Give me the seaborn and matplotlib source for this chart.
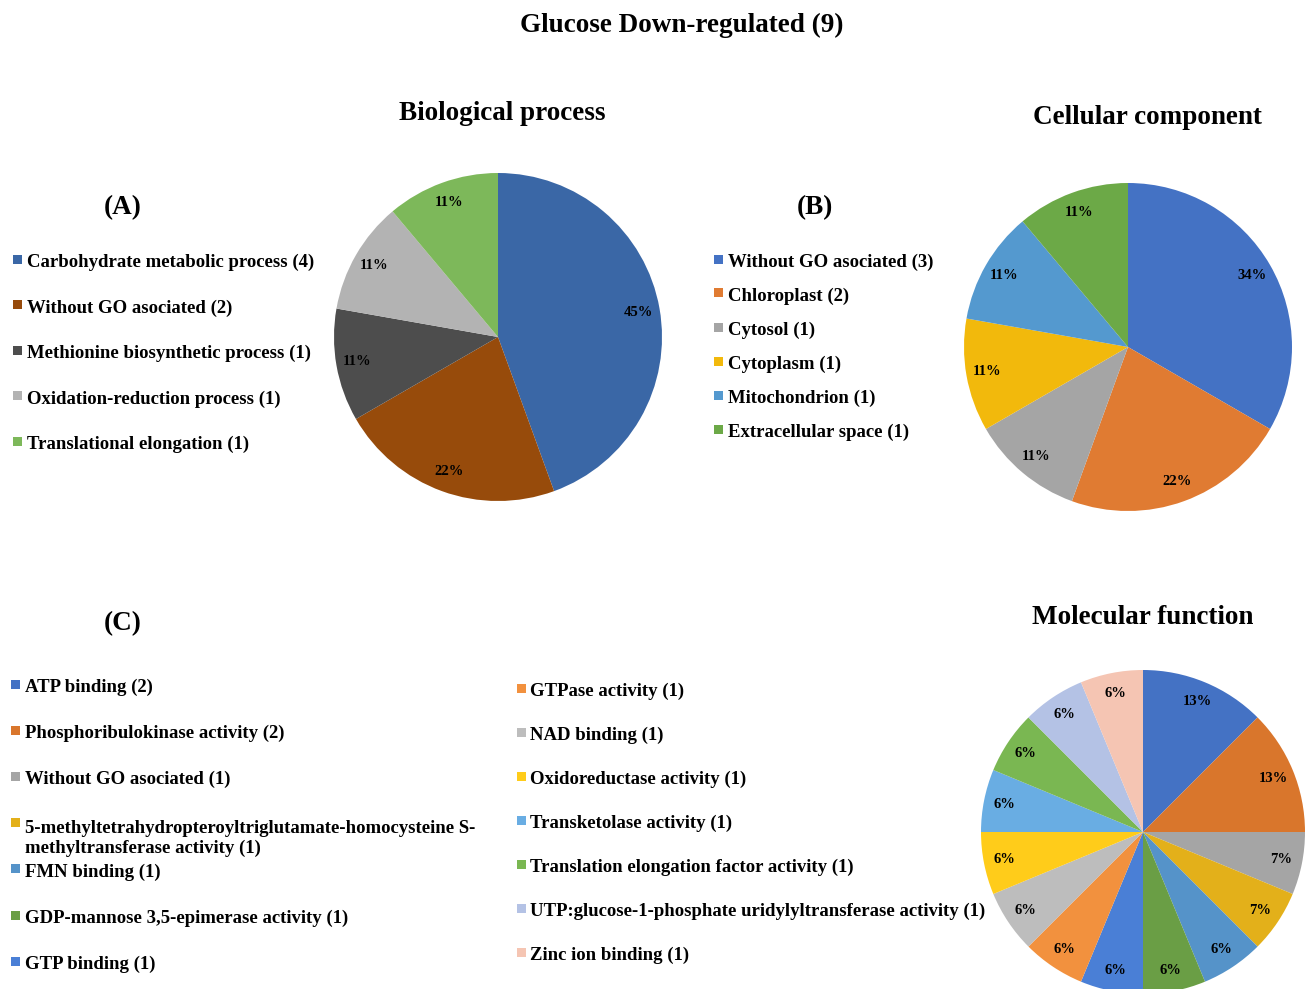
import matplotlib
matplotlib.use("Agg")
import matplotlib.pyplot as plt
from matplotlib.patches import Rectangle
import seaborn as sns

# ---------------- data ----------------
title = "Glucose Down-regulated (9)"

bp_names = ["Carbohydrate metabolic process", "Without GO asociated",
            "Methionine biosynthetic process", "Oxidation-reduction process",
            "Translational elongation"]
bp_counts = [4, 2, 1, 1, 1]
bp_pct_labels = ["45%", "22%", "11%", "11%", "11%"]
bp_colors = ["#3A67A6", "#974B0B", "#4D4D4D", "#B3B3B3", "#7DB85A"]

cc_names = ["Without GO asociated", "Chloroplast", "Cytosol", "Cytoplasm",
            "Mitochondrion", "Extracellular space"]
cc_counts = [3, 2, 1, 1, 1, 1]
cc_pct_labels = ["34%", "22%", "11%", "11%", "11%", "11%"]
cc_colors = ["#4472C4", "#E07B32", "#A5A5A5", "#F2B90C", "#5499CF", "#6CA947"]

mf_names = ["ATP binding", "Phosphoribulokinase activity", "Without GO asociated",
            "5-methyltetrahydropteroyltriglutamate-homocysteine S-\nmethyltransferase activity",
            "FMN binding", "GDP-mannose 3,5-epimerase activity", "GTP binding",
            "GTPase activity", "NAD binding", "Oxidoreductase activity",
            "Transketolase activity", "Translation elongation factor activity",
            "UTP:glucose-1-phosphate uridylyltransferase activity", "Zinc ion binding"]
mf_counts = [2, 2, 1, 1, 1, 1, 1, 1, 1, 1, 1, 1, 1, 1]
mf_pct_labels = ["13%", "13%", "7%", "7%", "6%", "6%", "6%", "6%", "6%", "6%",
                 "6%", "6%", "6%", "6%"]
mf_colors = ["#4472C4", "#D9762C", "#A5A5A5", "#E3B01A", "#5593C9", "#6A9E45",
             "#4A7FD6", "#F2913E", "#BDBDBD", "#FFCC1A", "#69ADE3", "#7AB752",
             "#B4C2E5", "#F5C5B3"]

# ---------------- style ----------------
sns.set_theme(style="white")
plt.rcParams["font.family"] = ["Liberation Serif", "DejaVu Serif"]
plt.rcParams["font.weight"] = "bold"

W, H = 1310, 989
fig = plt.figure(figsize=(W / 100, H / 100), dpi=100)
fig.patch.set_facecolor("white")

LINE_GAP = 22  # pixel distance between wrapped legend lines


def fx(x):
    return x / W


def fy(y):
    return 1 - y / H


def add_pie(cx, cy, r, counts, labels, colors, dist=0.87):
    ax = fig.add_axes([fx(cx - r), fy(cy + r), 2 * r / W, 2 * r / H])
    wedges, texts = ax.pie(counts, labels=labels, colors=colors, startangle=90,
                           counterclock=False, labeldistance=dist,
                           wedgeprops=dict(linewidth=0),
                           textprops=dict(fontsize=10.5, fontweight="bold", color="black"))
    for t in texts:
        t.set_ha("center")
        t.set_va("center")
    ax.set_xlim(-1, 1)
    ax.set_ylim(-1, 1)
    ax.axis("off")
    return wedges


def add_legend(xm, xt, y0, dy, names, counts, wedges, fs=13.5):
    for i, (name, n, w) in enumerate(zip(names, counts, wedges)):
        y = y0 + i * dy
        nlines = name.count("\n") + 1
        fig.add_artist(Rectangle((fx(xm), fy(y + 2.5)), 9 / W, 9 / H,
                                 transform=fig.transFigure,
                                 facecolor=w.get_facecolor(), edgecolor="none"))
        fig.text(fx(xt), fy(y + 6 + (nlines - 1) * LINE_GAP), f"{name} ({n})",
                 fontsize=fs, fontweight="bold", ha="left", va="baseline",
                 linespacing=1.18, color="black")


def heading(x, y, s, fs=19.5):
    fig.text(fx(x), fy(y + 3), s, fontsize=fs, fontweight="bold", ha="center",
             va="center", color="black")


heading(682, 22, title)
heading(502, 110, "Biological process")
heading(1147, 114, "Cellular component")
heading(1143, 615, "Molecular function")
heading(123, 205, "(A)")
heading(815, 205, "(B)")
heading(123, 621, "(C)")

bp_w = add_pie(498, 337, 164, bp_counts, bp_pct_labels, bp_colors)
cc_w = add_pie(1128, 347, 164, cc_counts, cc_pct_labels, cc_colors)
mf_w = add_pie(1143, 832, 162, mf_counts, mf_pct_labels, mf_colors)

add_legend(13, 27, 261, 45.5, bp_names, bp_counts, bp_w)
add_legend(714, 728, 261, 34, cc_names, cc_counts, cc_w)
add_legend(11, 25, 686, 46.2, mf_names[:7], mf_counts[:7], mf_w[:7])
add_legend(517, 530, 690, 44, mf_names[7:], mf_counts[7:], mf_w[7:])

fig.savefig("out.png", dpi=100, facecolor="white")
